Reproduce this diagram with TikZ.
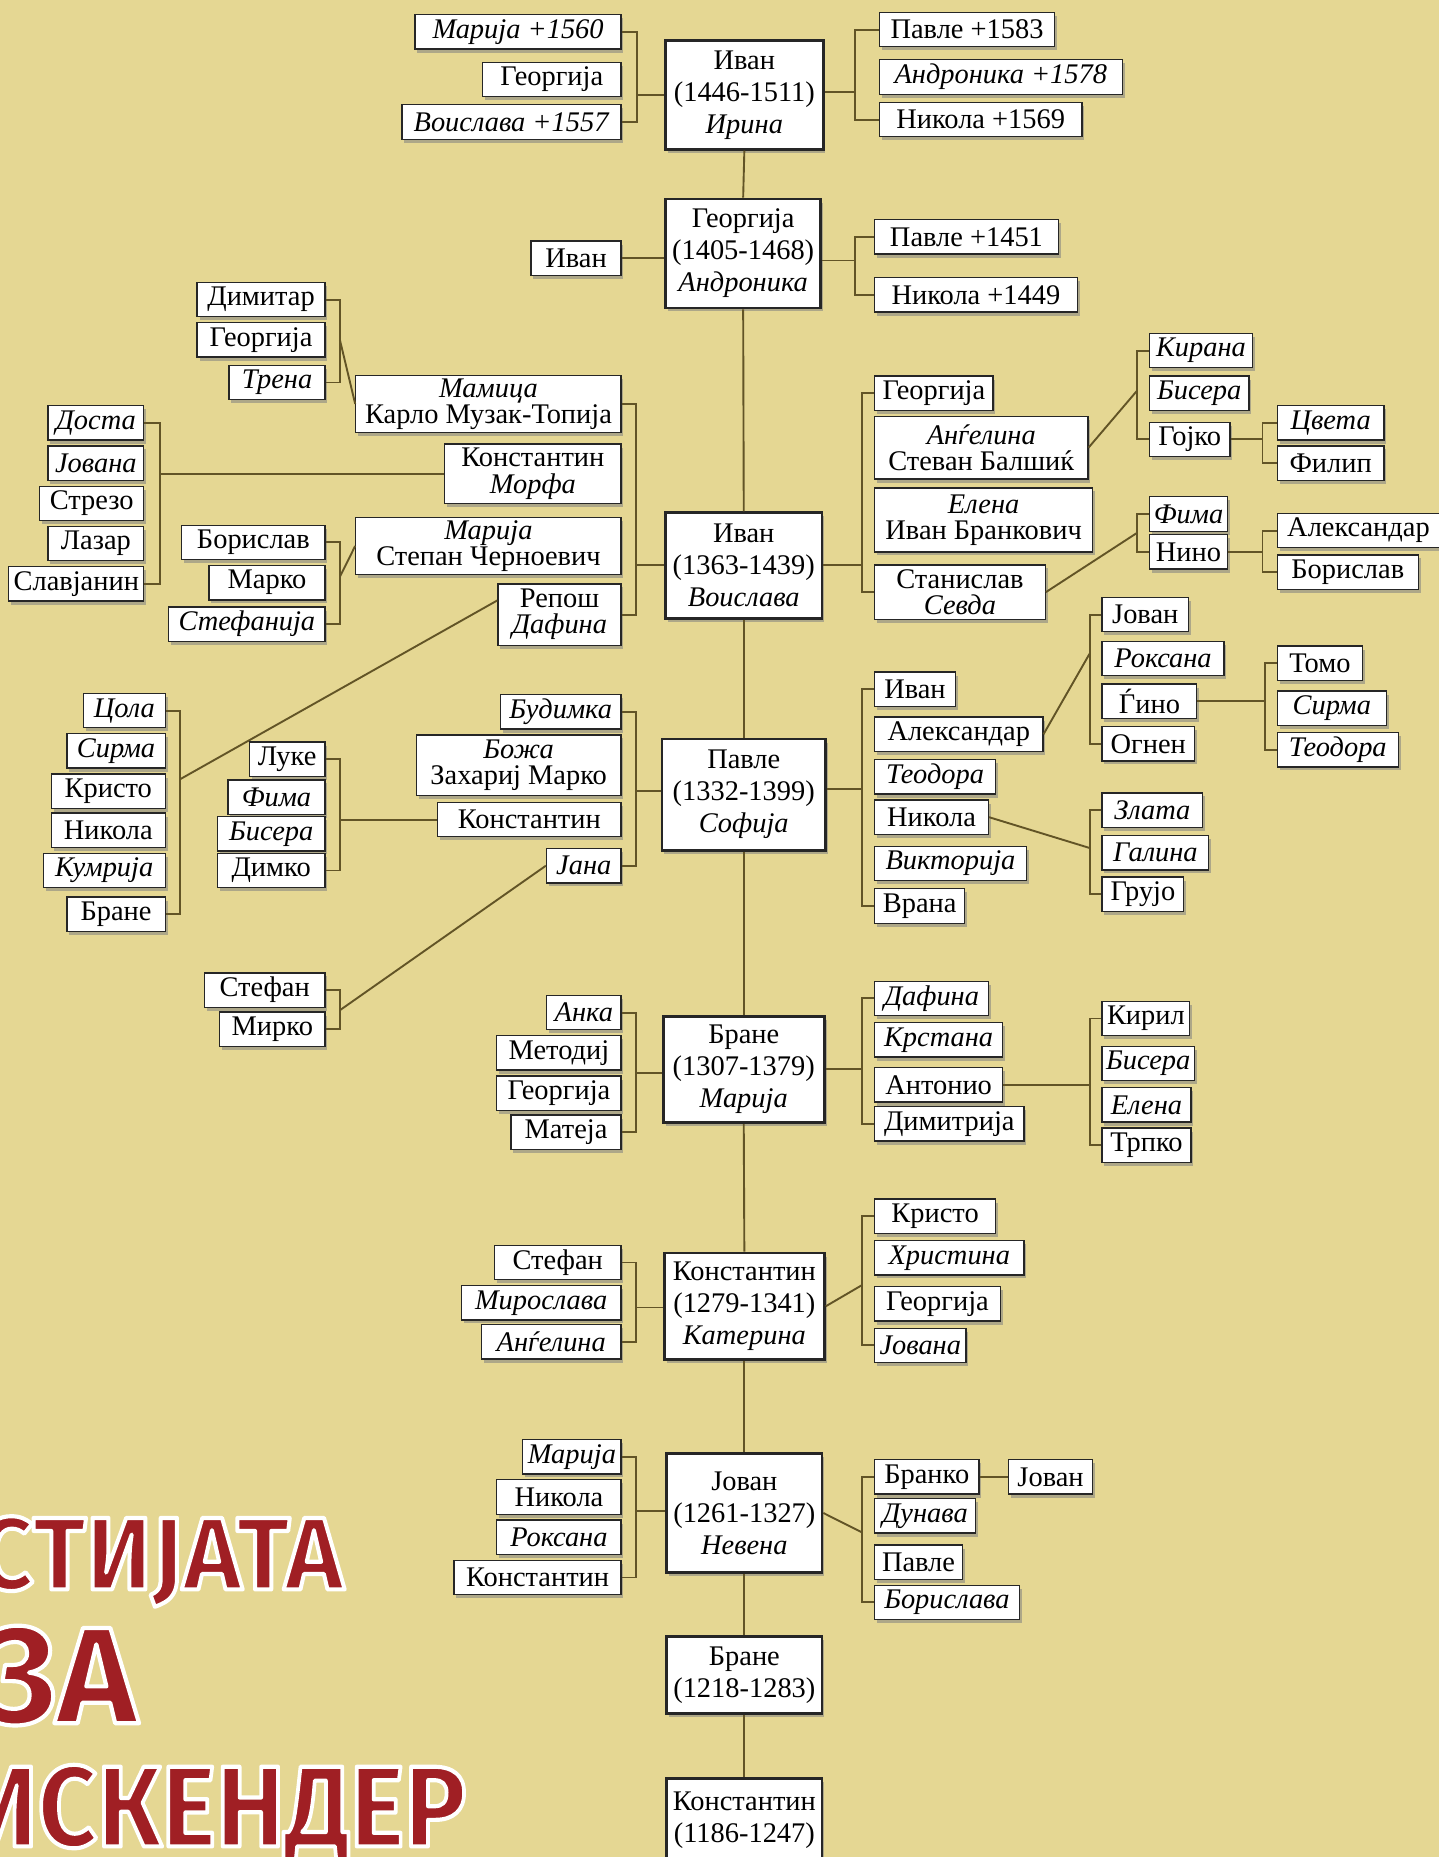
\documentclass[tikz,border=0pt]{standalone}
\usepackage{fontspec}
\setmainfont{Liberation Serif}[Script=Cyrillic,Language=Macedonian]
\newfontfamily\titlefam{Fira Sans}
\usetikzlibrary{shadows}

\definecolor{sand}{RGB}{229,215,147}
\definecolor{linkcol}{RGB}{98,84,38}
\definecolor{titlered}{RGB}{160,31,36}

\tikzset{
  kid/.style={draw=black!85, fill=white, line width=1.1pt, minimum height=29pt,
    inner xsep=3pt, inner ysep=0pt, font=\fontsize{24}{22}\selectfont,
    drop shadow={shadow xshift=2pt, shadow yshift=-3pt, fill=black!50, opacity=0.55}},
  kidl/.style={kid, anchor=east},
  kidr/.style={kid, anchor=west},
  pairl/.style={kidl, minimum height=50pt, align=center},
  pairr/.style={kidr, minimum height=50pt, align=center},
  w/.style={minimum width=#1pt},
  h/.style={minimum height=#1pt},
  spine/.style={kid, line width=2.4pt, minimum height=92pt, align=center,
    font=\fontsize{24}{27}\selectfont},
  link/.style={draw=linkcol, line width=1.6pt},
  titletext/.style={inner sep=0pt, anchor=base east, text=titlered},
}

\begin{document}
\begin{tikzpicture}[x=1pt,y=-1pt]
\useasboundingbox (0,0) rectangle (1215,1568);
\fill[sand] (0,0) rectangle (1215,1568);

% main line
\node[spine, w=133] (s1) at (628.5,80) {Иван\\(1446-1511)\\\textit{Ирина}};
\node[spine, w=131] (s2) at (627.5,214) {Георгија\\(1405-1468)\\\textit{Андроника}};
\node[spine, w=132, h=89] (s3) at (628,477.5) {Иван\\(1363-1439)\\\textit{Воислава}};
\node[spine, w=138, h=94] (s4) at (628,671) {Павле\\(1332-1399)\\\textit{Софија}};
\node[spine, w=136, h=90] (s5) at (628,903) {Бране\\(1307-1379)\\\textit{Марија}};
\node[spine, w=135, h=90] (s6) at (628.5,1103) {Константин\\(1279-1341)\\\textit{Катерина}};
\node[spine, w=131, h=101] (s7) at (628.5,1277.5) {Јован\\(1261-1327)\\\textit{Невена}};
\node[spine, w=131, h=65] (s8) at (628.5,1414.5) {Бране\\(1218-1283)};
\node[spine, w=131, h=70] (s9) at (628.5,1537) {Константин\\(1186-1247)};
\foreach \a/\b in {s1/s2,s2/s3,s3/s4,s4/s5,s5/s6,s6/s7,s7/s8,s8/s9}
  \draw[link] (\a.south) -- (\b.north);

% s1
\node[kidl, w=174] (s1l1) at (525,27) {\textit{Марија +1560}};
\node[kidl, w=117] (s1l2) at (525,67) {Георгија};
\node[kidl, w=185] (s1l3) at (525,103) {\textit{Воислава +1557}};
\node[kidr, w=148] (s1r1) at (742,25) {Павле +1583};
\node[kidr, w=205] (s1r2) at (742,65) {\textit{Андроника +1578}};
\node[kidr, w=171] (s1r3) at (742,101) {Никола +1569};
\coordinate (j1l) at (538,80);
\coordinate (j1r) at (722,78);
\draw[link] (s1l1.east) -| (j1l) |- (s1l3.east);
\draw[link] (j1l) -- (s1.west |- j1l);
\draw[link] (s1r1.west) -| (j1r) |- (s1r3.west);
\draw[link] (j1r) -- (s1.east |- j1r);

% s2
\node[kidl, w=76] (s2l1) at (525,218) {Иван};
\node[kidr, w=155] (s2r1) at (738,200) {Павле +1451};
\node[kidr, w=171] (s2r2) at (738,249) {Никола +1449};
\coordinate (j2r) at (722,220);
\draw[link] (s2l1.east) -- (s2l1.east -| s2.west);
\draw[link] (s2r1.west) -| (j2r) |- (s2r2.west);
\draw[link] (j2r) -- (s2.east |- j2r);

% s3 left
\node[pairl, w=224, h=48] (s3l1) at (525,341) {\textit{Мамица}\\Карло Музак-Топија};
\node[pairl, w=149] (s3l2) at (525,400) {Константин\\\textit{Морфа}};
\node[pairl, w=224, h=48] (s3l3) at (525,461) {\textit{Марија}\\Степан Черноевич};
\node[pairl, w=104, h=52] (s3l4) at (525,519) {Репош\\\textit{Дафина}};
\coordinate (j3l) at (537,477);
\draw[link] (s3l1.east) -| (j3l) |- (s3l4.east);
\draw[link] (j3l) -- (s3.west |- j3l);

\node[kidl, w=108] (mam1) at (275,253) {Димитар};
\node[kidl, w=108] (mam2) at (275,287) {Георгија};
\node[kidl, w=81] (mam3) at (275,323) {\textit{Трена}};
\coordinate (jmam) at (287,287);
\draw[link] (mam1.east) -| (jmam) |- (mam3.east);
\draw[link] (jmam) -- (s3l1.west);

\node[kidl, w=81] (kon1) at (122,357) {\textit{Доста}};
\node[kidl, w=81] (kon2) at (122,391) {\textit{Јована}};
\node[kidl, w=88] (kon3) at (122,425) {Стрезо};
\node[kidl, w=81] (kon4) at (122,459) {Лазар};
\node[kidl, w=114] (kon5) at (122,493) {Славјанин};
\coordinate (jkon) at (135,400);
\draw[link] (kon1.east) -| (jkon) |- (kon5.east);
\draw[link] (jkon) -- (s3l2.west);

\node[kidl, w=121] (ste1) at (275,458) {Борислав};
\node[kidl, w=98] (ste2) at (275,492) {Марко};
\node[kidl, w=132] (ste3) at (275,527) {\textit{Стефанија}};
\coordinate (jste) at (287,487);
\draw[link] (ste1.east) -| (jste) |- (ste3.east);
\draw[link] (jste) -- (s3l3.west);

\node[kidl, w=69] (rep1) at (140,600) {\textit{Цола}};
\node[kidl, w=83] (rep2) at (140,634) {\textit{Сирма}};
\node[kidl, w=96] (rep3) at (140,668) {Кристо};
\node[kidl, w=96] (rep4) at (140,701) {Никола};
\node[kidl, w=103] (rep5) at (140,735) {\textit{Кумрија}};
\node[kidl, w=83] (rep6) at (140,772) {Бране};
\coordinate (jrep) at (152,658);
\draw[link] (rep1.east) -| (jrep) |- (rep6.east);
\draw[link] (jrep) -- ([yshift=12pt]s3l4.west);

% s3 right
\node[kidr, w=100] (s3r1) at (738,332) {Георгија};
\node[pairr, w=180, h=53] (s3r2) at (738,378) {\textit{Анѓелина}\\Стеван Балшиќ};
\node[pairr, w=184, h=54] (s3r3) at (738,439) {\textit{Елена}\\Иван Бранкович};
\node[pairr, w=144, h=46] (s3r4) at (738,500) {Станислав\\\textit{Севда}};
\coordinate (j3r) at (728,477);
\draw[link] (s3r1.west) -| (j3r) |- (s3r4.west);
\draw[link] (j3r) -- (s3.east |- j3r);

\node[kidr, w=87] (ang1) at (970,296) {\textit{Кирана}};
\node[kidr, w=84] (ang2) at (970,332) {\textit{Бисера}};
\node[kidr, w=68] (ang3) at (970,371) {Гојко};
\coordinate (jang) at (960,330);
\draw[link] (ang1.west) -| (jang) |- (ang3.west);
\draw[link] (s3r2.east) -- (jang);

\node[kidr, w=90] (goj1) at (1078,357) {\textit{Цвета}};
\node[kidr, w=90] (goj2) at (1078,391) {Филип};
\coordinate (jgoj) at (1066,371);
\draw[link] (goj1.west) -| (jgoj) |- (goj2.west);
\draw[link] (ang3.east) -- (jgoj);

\node[kidr, w=66] (sta1) at (970,434) {\textit{Фима}};
\node[kidr, w=66] (sta2) at (970,466) {Нино};
\coordinate (jsta) at (960,450);
\draw[link] (sta1.west) -| (jsta) |- (sta2.west);
\draw[link] (s3r4.east) -- (jsta);

\node[kidr, w=137] (nin1) at (1078,448) {Александар};
\node[kidr, w=119] (nin2) at (1078,483) {Борислав};
\coordinate (jnin) at (1066,466);
\draw[link] (nin1.west) -| (jnin) |- (nin2.west);
\draw[link] (sta2.east) -- (jnin);

% s4 left
\node[kidl, w=102] (s4l1) at (525,601) {\textit{Будимка}};
\node[pairl, w=173, h=51] (s4l2) at (525,646) {\textit{Божа}\\Захариј Марко};
\node[kidl, w=155] (s4l3) at (525,692) {Константин};
\node[kidl, w=63] (s4l4) at (525,731) {\textit{Јана}};
\coordinate (j4l) at (537,668);
\draw[link] (s4l1.east) -| (j4l) |- (s4l4.east);
\draw[link] (j4l) -- (s4.west |- j4l);

\node[kidl, w=64] (kn1) at (275,641) {Луке};
\node[kidl, w=82] (kn2) at (275,673) {\textit{Фима}};
\node[kidl, w=91] (kn3) at (275,704) {\textit{Бисера}};
\node[kidl, w=91] (kn4) at (275,735) {Димко};
\coordinate (jkn) at (287,692);
\draw[link] (kn1.east) -| (jkn) |- (kn4.east);
\draw[link] (jkn) -- (s4l3.west);

\node[kidl, w=102] (jan1) at (275,836) {Стефан};
\node[kidl, w=89] (jan2) at (275,869) {Мирко};
\coordinate (jjan) at (287,853);
\draw[link] (jan1.east) -| (jjan) |- (jan2.east);
\draw[link] (jjan) -- (s4l4.west);

% s4 right
\node[kidr, w=68] (s4r1) at (738,582) {Иван};
\node[kidr, w=142] (s4r2) at (738,620) {Александар};
\node[kidr, w=102] (s4r3) at (738,656) {\textit{Теодора}};
\node[kidr, w=96] (s4r4) at (738,690) {Никола};
\node[kidr, w=128] (s4r5) at (738,729) {\textit{Викторија}};
\node[kidr, w=76] (s4r6) at (738,765) {Врана};
\coordinate (j4r) at (728,666);
\draw[link] (s4r1.west) -| (j4r) |- (s4r6.west);
\draw[link] (j4r) -- (s4.east |- j4r);

\node[kidr, w=73] (al1) at (930,519) {Јован};
\node[kidr, w=103] (al2) at (930,556) {\textit{Роксана}};
\node[kidr, w=80] (al3) at (930,592) {Ѓино};
\node[kidr, w=78] (al4) at (930,628) {Огнен};
\coordinate (jal) at (920,552);
\draw[link] (al1.west) -| (jal) |- (al4.west);
\draw[link] (s4r2.east) -- (jal);

\node[kidr, w=72] (gi1) at (1078,560) {Томо};
\node[kidr, w=92] (gi2) at (1078,598) {\textit{Сирма}};
\node[kidr, w=102] (gi3) at (1078,633) {\textit{Теодора}};
\coordinate (jgi) at (1068,592);
\draw[link] (gi1.west) -| (jgi) |- (gi3.west);
\draw[link] (al3.east) -- (jgi);

\node[kidr, w=85] (ni1) at (930,684) {\textit{Злата}};
\node[kidr, w=90] (ni2) at (930,720) {\textit{Галина}};
\node[kidr, w=69] (ni3) at (930,755) {Грујо};
\coordinate (jni) at (920,716);
\draw[link] (ni1.west) -| (jni) |- (ni3.west);
\draw[link] (s4r4.east) -- (jni);

% s5
\node[kidl, w=63] (s5l1) at (525,855) {\textit{Анка}};
\node[kidl, w=105] (s5l2) at (525,889) {Методиј};
\node[kidl, w=105] (s5l3) at (525,923) {Георгија};
\node[kidl, w=93] (s5l4) at (525,956) {Матеја};
\coordinate (j5l) at (537,906);
\draw[link] (s5l1.east) -| (j5l) |- (s5l4.east);
\draw[link] (j5l) -- (s5.west |- j5l);

\node[kidr, w=96] (s5r1) at (738,843) {\textit{Дафина}};
\node[kidr, w=108] (s5r2) at (738,878) {\textit{Крстана}};
\node[kidr, w=108] (s5r3) at (738,916) {Антонио};
\node[kidr, w=126] (s5r4) at (738,949) {Димитрија};
\coordinate (j5r) at (728,903);
\draw[link] (s5r1.west) -| (j5r) |- (s5r4.west);
\draw[link] (j5r) -- (s5.east |- j5r);

\node[kidr, w=74] (an1) at (930,860) {Кирил};
\node[kidr, w=78] (an2) at (930,898) {\textit{Бисера}};
\node[kidr, w=75] (an3) at (930,933) {\textit{Елена}};
\node[kidr, w=75] (an4) at (930,967) {Трпко};
\coordinate (jan) at (920,916);
\draw[link] (an1.west) -| (jan) |- (an4.west);
\draw[link] (s5r3.east) -- (jan);

% s6
\node[kidl, w=107] (s6l1) at (525,1066) {Стефан};
\node[kidl, w=135] (s6l2) at (525,1100) {\textit{Мирослава}};
\node[kidl, w=118] (s6l3) at (525,1133) {\textit{Анѓелина}};
\coordinate (j6l) at (537,1104);
\draw[link] (s6l1.east) -| (j6l) |- (s6l3.east);
\draw[link] (j6l) -- (s6.west |- j6l);

\node[kidr, w=102] (s6r1) at (738,1027) {Кристо};
\node[kidr, w=126] (s6r2) at (738,1062) {\textit{Христина}};
\node[kidr, w=106] (s6r3) at (738,1101) {Георгија};
\node[kidr, w=77] (s6r4) at (738,1136) {\textit{Јована}};
\coordinate (j6r) at (728,1085);
\draw[link] (s6r1.west) -| (j6r) |- (s6r4.west);
\draw[link] (s6.east) -- (j6r);

% s7
\node[kidl, w=83] (s7l1) at (525,1230) {\textit{Марија}};
\node[kidl, w=105] (s7l2) at (525,1264) {Никола};
\node[kidl, w=105] (s7l3) at (525,1298) {\textit{Роксана}};
\node[kidl, w=141] (s7l4) at (525,1332) {Константин};
\coordinate (j7l) at (537,1276);
\draw[link] (s7l1.east) -| (j7l) |- (s7l4.east);
\draw[link] (j7l) -- (s7.west |- j7l);

\node[kidr, w=88] (s7r1) at (738,1247) {Бранко};
\node[kidr, w=85] (s7r2) at (738,1280) {\textit{Дунава}};
\node[kidr, w=74] (s7r3) at (738,1319) {Павле};
\node[kidr, w=122] (s7r4) at (738,1353) {\textit{Борислава}};
\coordinate (j7r) at (728,1294);
\draw[link] (s7r1.west) -| (j7r) |- (s7r4.west);
\draw[link] (s7.east) -- (j7r);
\node[kidr, w=71] (bra1) at (851,1247) {Јован};
\draw[link] (s7r1.east) -- (bra1.west);

% red title, cut at the left edge, white rim from a stroked outline
\foreach \txt/\fs/\sx/\px/\py [count=\i] in {СТИЈАТА/87/0.96/290/1342, ЗА/116/1.0/116/1455, ИСКЕНДЕР/97/0.9/394/1559} {
  \node[titletext, font=\titlefam\bfseries\fontsize{\fs}{\fs}\selectfont] (title\i) at (\px,\py)
    {\special{pdf:literal direct 1 j 3.5 w 1 1 1 RG 2 Tr}\scalebox{\sx}[1]{\txt}\special{pdf:literal direct 0 Tr}};
}
\end{tikzpicture}
\end{document}
